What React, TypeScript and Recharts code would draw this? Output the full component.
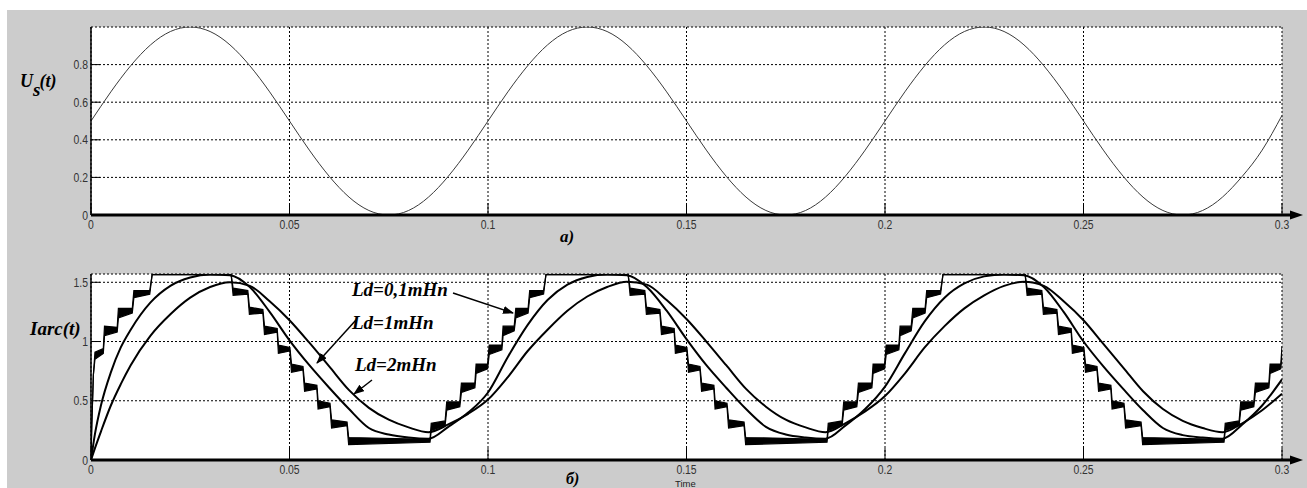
import React from 'react';
import { ComposedChart, Line, Area, XAxis, YAxis, CartesianGrid } from 'recharts';

const FONT_SANS = '"Liberation Sans", Arial, sans-serif';
const FONT_SERIF = '"Liberation Serif", "Times New Roman", serif';

// ---- axes ----
const xTicks = [0, 0.05, 0.1, 0.15, 0.2, 0.25, 0.3];
const xTickLabels = ['0', '0.05', '0.1', '0.15', '0.2', '0.25', '0.3'];
const usTicks = [0, 0.2, 0.4, 0.6, 0.8];
const usTickLabels = ['0', '0.2', '0.4', '0.6', '0.8'];
const iTicks = [0, 0.5, 1, 1.5];
const iTickLabels = ['0', '0.5', '1', '1.5'];

// ---- panel a) : Us(t) ----
const usTime = [
  0, 0.005, 0.01, 0.015, 0.02, 0.025, 0.03, 0.035, 0.04, 0.045,
  0.05, 0.055, 0.06, 0.065, 0.07, 0.075, 0.08, 0.085, 0.09, 0.095,
  0.1, 0.105, 0.11, 0.115, 0.12, 0.125, 0.13, 0.135, 0.14, 0.145,
  0.15, 0.155, 0.16, 0.165, 0.17, 0.175, 0.18, 0.185, 0.19, 0.195,
  0.2, 0.205, 0.21, 0.215, 0.22, 0.225, 0.23, 0.235, 0.24, 0.245,
  0.25, 0.255, 0.26, 0.265, 0.27, 0.275, 0.28, 0.285, 0.29, 0.295, 0.3,
];
const usValues = [
  0.5, 0.655, 0.794, 0.905, 0.976, 1.0, 0.976, 0.905, 0.794, 0.655,
  0.5, 0.345, 0.206, 0.095, 0.024, 0.0, 0.024, 0.095, 0.206, 0.345,
  0.5, 0.655, 0.794, 0.905, 0.976, 1.0, 0.976, 0.905, 0.794, 0.655,
  0.5, 0.345, 0.206, 0.095, 0.024, 0.0, 0.024, 0.095, 0.206, 0.345,
  0.5, 0.655, 0.794, 0.905, 0.976, 1.0, 0.976, 0.905, 0.794, 0.655,
  0.5, 0.345, 0.206, 0.095, 0.024, 0.0, 0.024, 0.095, 0.206, 0.345, 0.53,
];

// ---- panel б) : Iarc(t) ----
const iTime = [
  0, 0.001, 0.0025, 0.005, 0.0075,
  0.01, 0.015, 0.02, 0.025, 0.03, 0.035, 0.04, 0.045, 0.05, 0.055,
  0.06, 0.065, 0.07, 0.075, 0.08, 0.085, 0.09, 0.095, 0.1, 0.105,
  0.11, 0.115, 0.12, 0.125, 0.13, 0.135, 0.14, 0.145, 0.15, 0.155,
  0.16, 0.165, 0.17, 0.175, 0.18, 0.185, 0.19, 0.195, 0.2, 0.205,
  0.21, 0.215, 0.22, 0.225, 0.23, 0.235, 0.24, 0.245, 0.25, 0.255,
  0.26, 0.265, 0.27, 0.275, 0.28, 0.285, 0.29, 0.295, 0.3,
];
// Ld = 1 mHn
const ld1Values = [
  0, 0.22, 0.46, 0.74, 0.95,
  1.1, 1.33, 1.47, 1.54, 1.565, 1.56, 1.46, 1.25, 1.01, 0.8,
  0.61, 0.43, 0.27, 0.215, 0.19, 0.18, 0.28, 0.4, 0.57, 0.87,
  1.14, 1.35, 1.48, 1.545, 1.565, 1.56, 1.46, 1.26, 1.02, 0.8,
  0.61, 0.43, 0.28, 0.215, 0.19, 0.18, 0.29, 0.43, 0.62, 0.9,
  1.17, 1.37, 1.49, 1.55, 1.565, 1.56, 1.46, 1.25, 1.0, 0.79,
  0.6, 0.42, 0.27, 0.21, 0.19, 0.18, 0.3, 0.46, 0.68,
];
// Ld = 2 mHn
const ld2Values = [
  0, 0.1, 0.24, 0.46, 0.64,
  0.8, 1.05, 1.23, 1.37, 1.46, 1.5, 1.47, 1.34, 1.18, 0.99,
  0.79, 0.59, 0.44, 0.34, 0.275, 0.235, 0.3, 0.39, 0.51, 0.7,
  0.92, 1.1, 1.26, 1.38, 1.46, 1.505, 1.48, 1.35, 1.19, 1.0,
  0.8, 0.6, 0.45, 0.34, 0.275, 0.235, 0.31, 0.41, 0.54, 0.73,
  0.95, 1.13, 1.28, 1.39, 1.47, 1.505, 1.47, 1.34, 1.18, 0.98,
  0.78, 0.58, 0.43, 0.33, 0.27, 0.235, 0.31, 0.42, 0.56,
];
// Ld = 0,1 mHn : stepped current with ripple band (low / high edge)
const stairTime = [
  0, 0.0002, 0.0006, 0.001, 0.0031, 0.0034, 0.0066, 0.0069, 0.0104, 0.0108, 0.0148, 0.0154, 0.0353,
  0.0358, 0.0395, 0.0399, 0.0433, 0.0437, 0.0469, 0.0472, 0.0501, 0.0505, 0.0534, 0.0538, 0.0569, 0.0572, 0.0602, 0.0606, 0.0645, 0.0649, 0.0854,
  0.0857, 0.0892, 0.0896, 0.0929, 0.0933, 0.0967, 0.097, 0.0999, 0.1003, 0.1035, 0.1038, 0.1066, 0.107, 0.1101, 0.1105, 0.114, 0.1146, 0.1353,
  0.1358, 0.1395, 0.1399, 0.1433, 0.1437, 0.1469, 0.1472, 0.1501, 0.1505, 0.1534, 0.1538, 0.1569, 0.1572, 0.1602, 0.1606, 0.1645, 0.1649, 0.1854,
  0.1857, 0.1892, 0.1896, 0.1929, 0.1933, 0.1967, 0.197, 0.1999, 0.2003, 0.2035, 0.2038, 0.2066, 0.207, 0.2101, 0.2105, 0.214, 0.2146, 0.2353,
  0.2358, 0.2395, 0.2399, 0.2433, 0.2437, 0.2469, 0.2472, 0.2501, 0.2505, 0.2534, 0.2538, 0.2569, 0.2572, 0.2602, 0.2606, 0.2645, 0.2649, 0.2854,
  0.2857, 0.2892, 0.2896, 0.2929, 0.2933, 0.2967, 0.297, 0.2997, 0.3,
];
const stairLow = [
  0, 0.3, 0.72, 0.85, 0.9, 1.05, 1.08, 1.2, 1.24, 1.37, 1.4, 1.565, 1.565,
  1.39, 1.4, 1.23, 1.24, 1.06, 1.08, 0.9, 0.92, 0.74, 0.76, 0.58, 0.6, 0.43, 0.45, 0.27, 0.29, 0.13, 0.15,
  0.25, 0.29, 0.42, 0.45, 0.57, 0.61, 0.73, 0.77, 0.89, 0.93, 1.05, 1.09, 1.2, 1.24, 1.37, 1.4, 1.565, 1.565,
  1.39, 1.4, 1.23, 1.24, 1.06, 1.08, 0.9, 0.92, 0.74, 0.76, 0.58, 0.6, 0.43, 0.45, 0.27, 0.29, 0.13, 0.15,
  0.25, 0.29, 0.42, 0.45, 0.57, 0.61, 0.73, 0.77, 0.89, 0.93, 1.05, 1.09, 1.2, 1.24, 1.37, 1.4, 1.565, 1.565,
  1.39, 1.4, 1.23, 1.24, 1.06, 1.08, 0.9, 0.92, 0.74, 0.76, 0.58, 0.6, 0.43, 0.45, 0.27, 0.29, 0.13, 0.15,
  0.25, 0.29, 0.42, 0.45, 0.57, 0.61, 0.73, 0.77, 0.89,
];
const stairHigh = [
  0, 0.3, 0.72, 0.91, 0.94, 1.13, 1.12, 1.28, 1.28, 1.43, 1.43, 1.565, 1.565,
  1.45, 1.43, 1.29, 1.27, 1.13, 1.11, 0.97, 0.95, 0.81, 0.79, 0.65, 0.63, 0.5, 0.48, 0.34, 0.32, 0.19, 0.175,
  0.31, 0.33, 0.49, 0.49, 0.65, 0.65, 0.81, 0.81, 0.97, 0.97, 1.13, 1.13, 1.28, 1.28, 1.43, 1.43, 1.565, 1.565,
  1.45, 1.43, 1.29, 1.27, 1.13, 1.11, 0.97, 0.95, 0.81, 0.79, 0.65, 0.63, 0.5, 0.48, 0.34, 0.32, 0.19, 0.175,
  0.31, 0.33, 0.49, 0.49, 0.65, 0.65, 0.81, 0.81, 0.97, 0.97, 1.13, 1.13, 1.28, 1.28, 1.43, 1.43, 1.565, 1.565,
  1.45, 1.43, 1.29, 1.27, 1.13, 1.11, 0.97, 0.95, 0.81, 0.79, 0.65, 0.63, 0.5, 0.48, 0.34, 0.32, 0.19, 0.175,
  0.31, 0.33, 0.49, 0.49, 0.65, 0.65, 0.81, 0.81, 0.96,
];

const usData = usTime.map((t, i) => ({ t, v: usValues[i] }));
const ld1Data = iTime.map((t, i) => ({ t, v: ld1Values[i] }));
const ld2Data = iTime.map((t, i) => ({ t, v: ld2Values[i] }));
const stairData = stairTime.map((t, i) => ({ t, band: [stairLow[i], stairHigh[i]] }));

const makeXTick = () => (props: any) => {
  const { x, y, payload } = props;
  const idx = xTicks.indexOf(payload.value);
  const label = idx >= 0 ? xTickLabels[idx] : String(payload.value);
  return (
    <g>
      <line x1={x} x2={x} y1={y} y2={y - 12} stroke="#000" strokeWidth={1} />
      <text
        transform={`translate(${x},${y + 13.5}) scale(0.8,1)`}
        textAnchor="middle"
        fontSize={13}
        fontFamily={FONT_SANS}
        fill="#333"
      >
        {label}
      </text>
    </g>
  );
};

const makeYTick = (ticks: number[], labels: string[]) => (props: any) => {
  const { x, y, payload } = props;
  const idx = ticks.indexOf(payload.value);
  const label = idx >= 0 ? labels[idx] : String(payload.value);
  return (
    <g>
      <line x1={x} x2={x + 9} y1={y} y2={y} stroke="#000" strokeWidth={1} />
      <text
        transform={`translate(${x - 3},${y + 4.5}) scale(0.8,1)`}
        textAnchor="end"
        fontSize={13}
        fontFamily={FONT_SANS}
        fill="#333"
      >
        {label}
      </text>
    </g>
  );
};

const GRID_DASH = '2 2';

export default function App() {
  const serifLabel = {
    fontFamily: FONT_SERIF,
    fontWeight: 'bold' as const,
    fontStyle: 'italic' as const,
    fill: '#000',
  };
  return (
    <div
      style={{
        position: 'absolute',
        left: 0,
        top: 0,
        width: 1307,
        height: 488,
        background: '#ffffff',
        overflow: 'hidden',
      }}
    >
      <div
        style={{
          position: 'absolute',
          left: 7,
          top: 10,
          width: 1300,
          height: 478,
          background: '#cccccc',
        }}
      />
      {/* panel a) */}
      <div style={{ position: 'absolute', left: 0, top: 0 }}>
        <ComposedChart width={1307} height={240} margin={{ top: 27, right: 25, bottom: 5, left: 0 }}>
          <CartesianGrid stroke="#000" strokeDasharray={GRID_DASH} fill="#ffffff" fillOpacity={1} />
          <XAxis
            type="number"
            dataKey="t"
            domain={[0, 0.3]}
            ticks={xTicks}
            interval={0}
            allowDataOverflow
            height={20}
            tickSize={0}
            tickMargin={0}
            tickLine={false}
            axisLine={{ stroke: '#000', strokeWidth: 3 }}
            tick={makeXTick()}
          />
          <YAxis
            type="number"
            domain={[0, 1]}
            ticks={usTicks}
            interval={0}
            allowDataOverflow
            width={91}
            tickSize={0}
            tickMargin={0}
            tickLine={false}
            axisLine={{ stroke: '#000', strokeWidth: 1.5 }}
            tick={makeYTick(usTicks, usTickLabels)}
          />
          <Line
            data={usData}
            dataKey="v"
            type="natural"
            stroke="#3a3a3a"
            strokeWidth={1}
            dot={false}
            activeDot={false}
            isAnimationActive={false}
          />
        </ComposedChart>
      </div>
      {/* panel б) */}
      <div style={{ position: 'absolute', left: 0, top: 246 }}>
        <ComposedChart width={1307} height={239} margin={{ top: 28, right: 25, bottom: 5, left: 0 }}>
          <CartesianGrid stroke="#000" strokeDasharray={GRID_DASH} fill="#ffffff" fillOpacity={1} />
          <XAxis
            type="number"
            dataKey="t"
            domain={[0, 0.3]}
            ticks={xTicks}
            interval={0}
            allowDataOverflow
            height={20}
            tickSize={0}
            tickMargin={0}
            tickLine={false}
            axisLine={{ stroke: '#000', strokeWidth: 3 }}
            tick={makeXTick()}
          />
          <YAxis
            type="number"
            domain={[0, 1.57]}
            ticks={iTicks}
            interval={0}
            allowDataOverflow
            width={91}
            tickSize={0}
            tickMargin={0}
            tickLine={false}
            axisLine={{ stroke: '#000', strokeWidth: 1.5 }}
            tick={makeYTick(iTicks, iTickLabels)}
          />
          <Area
            data={stairData}
            dataKey="band"
            type="linear"
            stroke="#000"
            strokeWidth={1.2}
            fill="#000"
            fillOpacity={1}
            dot={false}
            activeDot={false}
            isAnimationActive={false}
          />
          <Line
            data={ld1Data}
            dataKey="v"
            type="monotone"
            stroke="#000"
            strokeWidth={2}
            dot={false}
            activeDot={false}
            isAnimationActive={false}
          />
          <Line
            data={ld2Data}
            dataKey="v"
            type="monotone"
            stroke="#000"
            strokeWidth={2}
            dot={false}
            activeDot={false}
            isAnimationActive={false}
          />
        </ComposedChart>
      </div>
      {/* labels, axis arrows, annotations */}
      <svg
        width={1307}
        height={488}
        style={{ position: 'absolute', left: 0, top: 0, pointerEvents: 'none' }}
      >
        <defs>
          <marker
            id="ah"
            markerWidth="11"
            markerHeight="8"
            refX="10"
            refY="4"
            orient="auto"
            markerUnits="userSpaceOnUse"
          >
            <path d="M0,0 L11,4 L0,8 z" fill="#000" />
          </marker>
        </defs>
        <line x1={1282} y1={215} x2={1293} y2={215} stroke="#000" strokeWidth={3} />
        <polygon points="1290,210.5 1303,215 1290,219.5" fill="#000" />
        <line x1={1282} y1={460} x2={1293} y2={460} stroke="#000" strokeWidth={3} />
        <polygon points="1290,455.5 1303,460 1290,464.5" fill="#000" />

        <text x={20} y={87} fontSize={18} {...serifLabel}>
          U<tspan dy={9} fontSize={19}>s</tspan>
          <tspan dy={-9} dx={-1}>(t)</tspan>
        </text>
        <text x={30} y={335} fontSize={19} {...serifLabel}>Iarc(t)</text>
        <text x={560} y={242} fontSize={17} {...serifLabel}>a)</text>
        <text x={566} y={484} fontSize={16} {...serifLabel}>б)</text>
        <text x={675} y={486.5} fontSize={9.5} fontFamily={FONT_SANS} fill="#222">Time</text>

        <text x={352} y={296} fontSize={19} {...serifLabel}>Ld=0,1mHn</text>
        <text x={352} y={329} fontSize={19} {...serifLabel}>Ld=1mHn</text>
        <text x={355} y={371} fontSize={19} {...serifLabel}>Ld=2mHn</text>
        <line x1={453} y1={293} x2={513} y2={313} stroke="#000" strokeWidth={1.5} markerEnd="url(#ah)" />
        <line x1={356} y1={320} x2={317} y2={363} stroke="#000" strokeWidth={1.5} markerEnd="url(#ah)" />
        <line x1={372} y1={380} x2={354} y2={394} stroke="#000" strokeWidth={1.5} markerEnd="url(#ah)" />
      </svg>
    </div>
  );
}
